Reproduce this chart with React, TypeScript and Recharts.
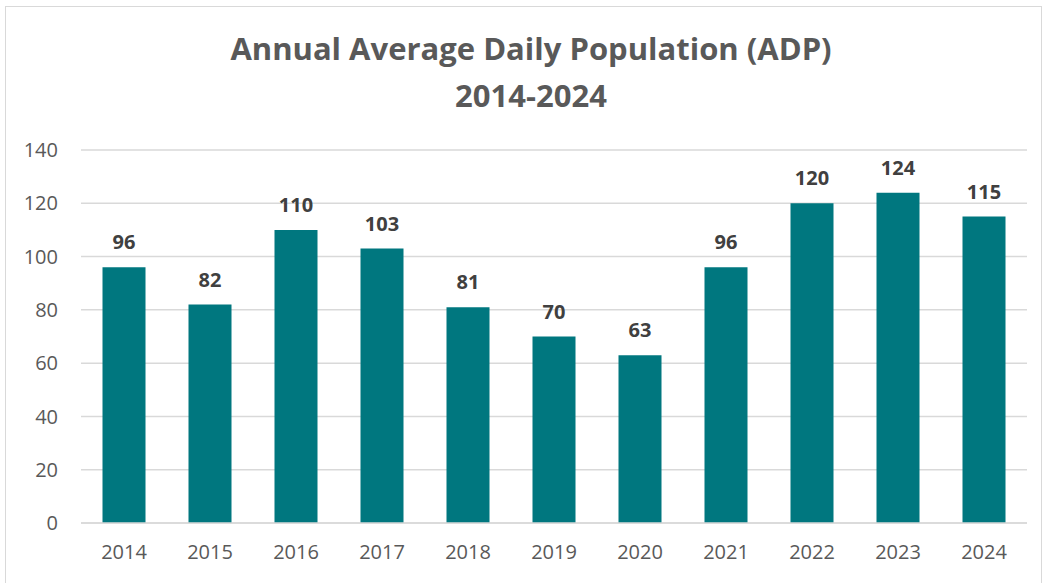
import { BarChart, Bar, XAxis, YAxis, CartesianGrid, LabelList } from 'recharts'

const years = ['2014', '2015', '2016', '2017', '2018', '2019', '2020', '2021', '2022', '2023', '2024']
const adp = [96, 82, 110, 103, 81, 70, 63, 96, 120, 124, 115]
const yTicks = [0, 20, 40, 60, 80, 100, 120, 140]
const titleLines = ['Annual Average Daily Population (ADP)', '2014-2024']

const data = years.map((year, i) => ({ year, adp: adp[i] }))

const FONT = '"Open Sans", "Noto Sans", sans-serif'
const TEXT = '#595959'

export default function App() {
  return (
    <div style={{ position: 'absolute', left: 0, top: 0, width: 1045, height: 583, background: '#fff', overflow: 'hidden', fontFamily: FONT }}>
      <div style={{ position: 'absolute', left: 5, top: 6, width: 1035, height: 590, border: '1px solid #d9d9d9' }} />
      {titleLines.map((line, i) => (
        <div
          key={line}
          style={{
            position: 'absolute',
            left: 0,
            width: 1062,
            top: 28 + i * 47,
            textAlign: 'center',
            fontSize: 31,
            fontWeight: 700,
            color: TEXT,
            lineHeight: '40px',
          }}
        >
          {line}
        </div>
      ))}
      <div style={{ position: 'absolute', left: 0, top: 0 }}>
        <BarChart width={1045} height={583} data={data} margin={{ top: 150, right: 18, bottom: 30, left: 0 }} barCategoryGap="25%">
          <CartesianGrid vertical={false} stroke="#d9d9d9" strokeWidth={1.5} />
          <XAxis
            dataKey="year"
            axisLine={{ stroke: '#d9d9d9', strokeWidth: 1.5 }}
            tickLine={false}
            tickSize={0}
            tickMargin={22}
            height={30}
            tick={{ fontSize: 20, fontFamily: FONT, fill: TEXT }}
          />
          <YAxis
            domain={[0, 140]}
            ticks={yTicks}
            axisLine={false}
            tickLine={false}
            tickSize={0}
            tickMargin={23}
            width={81}
            tick={{ fontSize: 20, fontFamily: FONT, fill: TEXT }}
          />
          <Bar dataKey="adp" fill="#00777f" isAnimationActive={false}>
            <LabelList dataKey="adp" position="top" offset={18} style={{ fontSize: 20, fontWeight: 700, fill: '#404040', fontFamily: FONT }} />
          </Bar>
        </BarChart>
      </div>
    </div>
  )
}
